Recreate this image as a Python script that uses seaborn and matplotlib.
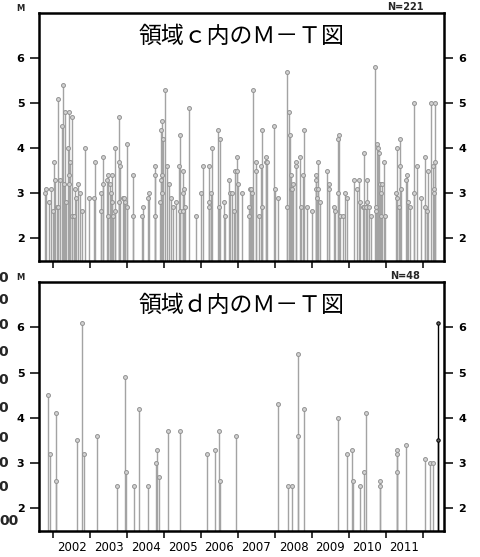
import numpy as np
import pandas as pd
import matplotlib.pyplot as plt
import seaborn as sns

# --- region c events (decimal year, magnitude) ---
c_year = [2001.79, 2001.82, 2001.90, 2001.955, 2002.01, 2002.02, 2002.06, 2002.10, 2002.14, 2002.14,
          2002.19, 2002.24, 2002.27, 2002.30, 2002.32, 2002.36, 2002.41, 2002.42, 2002.42, 2002.44,
          2002.47, 2002.51, 2002.52, 2002.56, 2002.59, 2002.61, 2002.68, 2002.73, 2002.77, 2002.86,
          2002.96, 2003.10, 2003.14, 2003.30, 2003.30, 2003.35, 2003.36, 2003.46, 2003.49, 2003.49,
          2003.55, 2003.56, 2003.59, 2003.59, 2003.63, 2003.67, 2003.68, 2003.77, 2003.78, 2003.79,
          2003.82, 2003.88, 2003.92, 2003.94, 2003.99, 2004.00, 2004.15, 2004.16,
          2004.40, 2004.42, 2004.58, 2004.60, 2004.75, 2004.75, 2004.75, 2004.88, 2004.92, 2004.92,
          2004.94, 2004.94, 2004.95, 2004.98, 2005.03, 2005.07, 2005.13, 2005.18, 2005.23, 2005.32,
          2005.40, 2005.43, 2005.44, 2005.50, 2005.50, 2005.52, 2005.55, 2005.56, 2005.68, 2005.86,
          2006.00, 2006.05, 2006.21, 2006.21, 2006.21, 2006.26, 2006.30, 2006.45, 2006.49, 2006.52,
          2006.61, 2006.65, 2006.75, 2006.79, 2006.84, 2006.90, 2006.93, 2006.97, 2006.98, 2007.01,
          2007.12, 2007.29, 2007.30, 2007.32, 2007.34, 2007.38, 2007.40, 2007.48, 2007.50, 2007.58,
          2007.62, 2007.65, 2007.66, 2007.75, 2007.76, 2007.78, 2007.98, 2007.99, 2008.07, 2008.32,
          2008.33, 2008.37, 2008.41, 2008.42, 2008.44, 2008.47, 2008.50, 2008.56, 2008.58, 2008.67,
          2008.71, 2008.77, 2008.79, 2008.86, 2009.01, 2009.10, 2009.12, 2009.10, 2009.13, 2009.15,
          2009.16, 2009.23, 2009.41, 2009.45, 2009.46, 2009.59, 2009.63, 2009.70, 2009.74,
          2009.70, 2009.77, 2009.84, 2009.88, 2009.95, 2010.13, 2010.21, 2010.28, 2010.31, 2010.38,
          2010.41, 2010.42, 2010.46, 2010.49, 2010.50, 2010.53, 2010.59, 2010.70, 2010.72, 2010.73,
          2010.77, 2010.79, 2010.82, 2010.85, 2010.86, 2010.86, 2010.90, 2010.94, 2010.98, 2011.27,
          2011.31, 2011.31, 2011.34, 2011.37, 2011.37, 2011.41, 2011.54, 2011.56, 2011.59, 2011.66,
          2011.77, 2011.77, 2011.83, 2011.96, 2012.05, 2012.06, 2012.10, 2012.14, 2012.23, 2012.27,
          2012.29, 2012.29, 2012.32, 2012.32]
c_mag = [3.0, 3.1, 2.8, 3.1, 2.6, 3.7, 3.3, 2.7, 5.1, 2.7,
         3.3, 4.5, 5.4, 3.2, 4.8, 2.8, 4.0, 4.8, 3.4, 3.2,
         3.7, 4.7, 2.5, 2.5, 3.1, 2.9, 3.2, 3.0, 2.6, 4.0,
         2.9, 2.9, 3.7, 3.0, 2.6, 3.2, 3.8, 3.3, 3.4, 2.5,
         3.2, 3.0, 3.4, 2.8, 2.5, 4.0, 2.6, 4.7, 3.7, 2.8,
         3.6, 2.9, 2.9, 2.8, 4.1, 2.7, 3.4, 2.5,
         2.5, 2.7, 2.9, 3.0, 3.6, 3.4, 2.5, 2.8, 3.3, 4.4,
         4.6, 3.4, 3.0, 4.2, 5.3, 3.6, 3.2, 2.9, 2.7, 2.8,
         3.6, 4.3, 2.6, 3.5, 3.0, 2.6, 3.1, 2.7, 4.9, 2.5,
         3.0, 3.6, 3.6, 2.8, 2.7, 3.0, 4.0, 4.4, 2.7, 4.2,
         2.8, 2.5, 3.3, 3.0, 3.0, 2.6, 3.5, 3.8, 3.5, 3.2,
         3.0, 2.5, 2.7, 3.1, 3.1, 3.0, 5.3, 3.5, 3.7, 2.5,
         3.6, 2.7, 4.4, 3.8, 3.7, 3.7, 4.5, 3.1, 2.9, 2.7,
         5.7, 4.8, 4.3, 3.4, 3.1, 3.1, 3.2, 3.7, 3.6, 3.8,
         2.7, 3.4, 4.4, 2.7, 2.6, 3.4, 3.3, 3.1, 2.9, 3.7,
         3.1, 2.8, 3.5, 3.1, 3.2, 2.7, 2.6, 4.2, 4.3,
         3.0, 2.5, 2.5, 3.0, 2.9, 3.3, 3.1, 3.3, 2.8, 2.7,
         2.7, 3.9, 2.7, 3.3, 2.8, 2.7, 2.5, 5.8, 2.7, 2.6,
         4.1, 4.0, 3.9, 3.2, 2.5, 3.0, 3.2, 3.7, 2.5, 3.0,
         4.0, 2.9, 2.7, 4.2, 3.6, 3.1, 3.3, 3.4, 2.8, 2.7,
         5.0, 3.0, 3.6, 2.9, 3.8, 2.7, 2.6, 3.5, 5.0, 3.6,
         3.1, 3.0, 5.0, 3.7]

# --- region d events ---
d_year = [2001.87, 2001.92, 2002.07, 2002.08, 2002.66, 2002.79, 2002.84, 2003.19, 2003.74, 2003.95,
          2003.97, 2004.18, 2004.32, 2004.57, 2004.78, 2004.82, 2004.86, 2005.10, 2005.43, 2006.16,
          2006.37, 2006.49, 2006.51, 2006.94, 2008.07, 2008.34, 2008.46, 2008.62, 2008.62, 2008.78,
          2009.70, 2009.95, 2010.08, 2010.12, 2010.29, 2010.41, 2010.46, 2010.83, 2010.83, 2011.31,
          2011.31, 2011.31, 2011.53, 2012.06, 2012.18, 2012.26]
d_mag = [4.5, 3.2, 4.1, 2.6, 3.5, 6.1, 3.2, 3.6, 2.5, 4.9,
         2.8, 2.5, 4.2, 2.5, 3.0, 3.3, 2.7, 3.7, 3.7, 3.2,
         3.3, 3.7, 2.6, 3.6, 4.3, 2.5, 2.5, 5.4, 3.6, 4.2,
         4.0, 3.2, 3.3, 2.6, 2.5, 2.8, 4.1, 2.6, 2.5, 3.3,
         3.2, 2.8, 3.4, 3.1, 3.0, 3.0]
# most recent events, drawn in black
d_new_year = [2012.42, 2012.42]
d_new_mag = [6.1, 3.5]

year_ticks = list(range(2002, 2013))
year_labels = [str(y) for y in range(2002, 2012)]
m_ticks = [2, 3, 4, 5, 6]

# clipped "0" labels of a neighbouring chart at the left edge (figure y fraction)
edge_zero_y = [0.501, 0.461, 0.417, 0.368, 0.318, 0.268, 0.214, 0.169, 0.126]

sns.set_theme(style="white")
plt.rcParams['font.family'] = ['Noto Sans CJK JP', 'DejaVu Sans']

fig = plt.figure(figsize=(4.8, 5.57), dpi=100)
ax_c = fig.add_axes([0.08125, 0.5314, 0.84375, 0.4452])
ax_d = fig.add_axes([0.08125, 0.0467, 0.84375, 0.4470])

XMIN, XMAX, YMIN, YMAX = 2001.62, 2012.57, 1.5, 7.0
STEM = '#a3a3a3'


def stems(ax, yr, mg, color, face, edge, size=8):
    df = pd.DataFrame({'year': yr, 'M': mg})
    ax.vlines(df['year'], YMIN, df['M'], color=color, lw=1.0, zorder=2)
    sns.scatterplot(data=df, x='year', y='M', ax=ax, s=size, color=face,
                    edgecolor=edge, linewidth=0.7, zorder=3, legend=False)


stems(ax_c, c_year, c_mag, STEM, '#d2d2d2', '#939393')
stems(ax_d, d_year, d_mag, STEM, '#d2d2d2', '#939393')
stems(ax_d, d_new_year, d_new_mag, 'black', '#666666', 'black', size=6)

for ax, title, n in [(ax_c, '領域ｃ内のＭ－Ｔ図', 'N=221'), (ax_d, '領域ｄ内のＭ－Ｔ図', 'N=48')]:
    ax.set_xlim(XMIN, XMAX)
    ax.set_ylim(YMIN, YMAX)
    ax.set_xlabel('')
    ax.set_ylabel('')
    for s in ax.spines.values():
        s.set_visible(True)
        s.set_color('black')
        s.set_linewidth(1.8)
    ax.set_yticks(m_ticks)
    ax.set_xticks(year_ticks)
    ax.tick_params(axis='y', which='both', left=True, right=True, labelleft=True, labelright=True,
                   direction='out', length=6.5, width=1.1, color='black', pad=4,
                   labelsize=8, labelcolor='black')
    for lab in ax.get_yticklabels():
        lab.set_fontweight('bold')
        lab.set_family('DejaVu Sans')
    ax.tick_params(axis='x', which='major', bottom=True, top=False, direction='out', length=5,
                   width=1.1, color='black', labelbottom=False)
    ax.text(0.5, 0.905, title, transform=ax.transAxes, ha='center', va='center',
            fontsize=16.5, color='black')
    ax.text(-0.045, 1.0, 'M', transform=ax.transAxes, ha='center', va='bottom',
            fontsize=6, fontweight='bold', family='DejaVu Sans')
    ax.text(0.905, 1.005, n, transform=ax.transAxes, ha='center', va='bottom',
            fontsize=7, fontweight='bold', family='DejaVu Sans')

# year labels sit between the yearly ticks on the lower panel
ax_d.set_xticks([y + 0.5 for y in range(2002, 2012)], minor=True)
ax_d.set_xticklabels(year_labels, minor=True)
ax_d.tick_params(axis='x', which='minor', bottom=True, length=0, labelbottom=True,
                 labelsize=8.5, pad=7, labelcolor='black')
for lab in ax_d.get_xticklabels(minor=True):
    lab.set_family('DejaVu Sans')
    lab.set_fontweight('medium')

for yy in edge_zero_y:
    fig.text(0.017, yy, '0', ha='right', va='center', fontsize=10, fontweight='bold',
             family='DejaVu Sans')
fig.text(0.038, 0.064, '00', ha='right', va='center', fontsize=10, fontweight='bold',
         family='DejaVu Sans', zorder=0)

plt.savefig('out.png', dpi=100)
